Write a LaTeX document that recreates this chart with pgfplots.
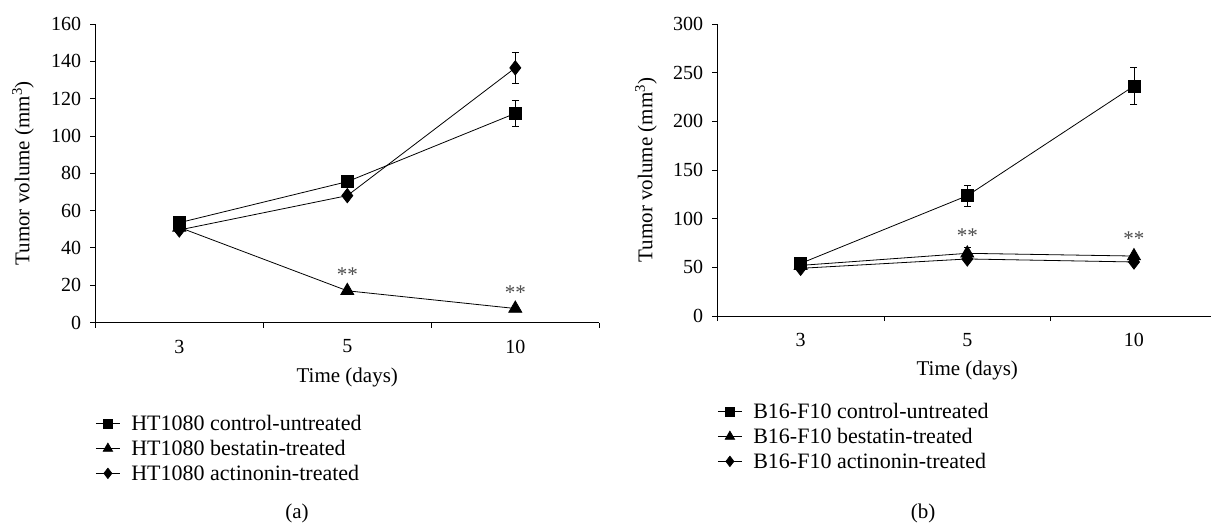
\documentclass[border=0pt]{standalone}
\usepackage{fontspec}
\setmainfont{Liberation Serif}
\usepackage{pgfplots}
\pgfplotsset{compat=1.18}

% diamond a bit taller than wide
\pgfdeclareplotmark{dmd}{%
  \pgfpathmoveto{\pgfqpoint{0pt}{1.3\pgfplotmarksize}}%
  \pgfpathlineto{\pgfqpoint{\pgfplotmarksize}{0pt}}%
  \pgfpathlineto{\pgfqpoint{0pt}{-1.3\pgfplotmarksize}}%
  \pgfpathlineto{\pgfqpoint{-\pgfplotmarksize}{0pt}}%
  \pgfpathclose\pgfusepathqfillstroke}

\pgfplotsset{
  panel/.style={
    scale only axis, anchor=south west,
    xmin=0, xmax=3, ymin=0,
    axis x line*=bottom, axis y line*=left,
    axis line style={-, line width=1pt},
    tick align=outside, major tick length=5pt,
    tick style={line width=0.8pt, black},
    xtick={0,1,2,3}, xticklabels={},
    extra x ticks={0.5,1.5,2.5}, extra x tick labels={3,5,10},
    extra x tick style={tick style={draw=none}},
    xticklabel style={inner sep=0pt, anchor=center, yshift=-19pt},
    yticklabel style={inner sep=0pt, anchor=east, xshift=-9pt},
    /pgf/number format/assume math mode=true,
    tick label style={font=\fontsize{20}{20}\selectfont},
    label style={font=\fontsize{21}{21}\selectfont},
    xlabel={Time (days)},
    ylabel={Tumor volume (mm\textsuperscript{3})},
    legend cell align=left,
    legend style={draw=none, fill=none, inner sep=0pt, row sep=4pt,
      font=\fontsize{22}{22}\selectfont,
      /tikz/every odd column/.append style={column sep=9pt}},
    legend image code/.code={%
      \draw[#1, mark repeat=2, mark phase=2]
        plot coordinates {(0pt,0pt) (12pt,0pt) (24pt,0pt)};},
    every legend image post/.style={mark options={scale=0.72}},
    every axis plot/.append style={black, line width=0.8pt},
    error bars/error bar style={line width=0.8pt},
    error bars/error mark options={rotate=90, mark size=3.5pt, line width=0.8pt},
  },
  sq/.style={mark=square*, mark size=6pt},
  tri/.style={mark=triangle*, mark size=7.5pt},
  dia/.style={mark=dmd, mark size=5.5pt},
}

\begin{document}
\begin{tikzpicture}

% (a) HT1080
\begin{axis}[panel, at={(95.3pt,200.5pt)}, width=504pt, height=298.5pt,
  ymax=160, ytick={0,20,...,160},
  xlabel style={at={(axis description cs:0.5,-0.1826)}, anchor=center},
  ylabel style={at={(axis description cs:-0.1435,0.5)}, anchor=center},
  legend style={at={(axis description cs:0,-0.304)}, anchor=north west}]
\addplot[sq, error bars/.cd, y dir=both, y explicit] coordinates {
  (0.5,53.5) +- (0,0) (1.5,75.5) +- (0,0) (2.5,112.1) +- (0,7.2)};
\addlegendentry{HT1080 control-untreated}
\addplot[tri] coordinates {(0.5,51) (1.5,17) (2.5,7.5)};
\addlegendentry{HT1080 bestatin-treated}
\addplot[dia, error bars/.cd, y dir=both, y explicit] coordinates {
  (0.5,49.6) +- (0,0) (1.5,68) +- (0,0) (2.5,136.5) +- (0,8.5)};
\addlegendentry{HT1080 actinonin-treated}
\node[text=black!70, font=\fontsize{21}{21}\selectfont] at (axis cs:1.5,25.8) {**};
\node[text=black!70, font=\fontsize{21}{21}\selectfont] at (axis cs:2.5,15.8) {**};
\end{axis}

% (b) B16-F10
\begin{axis}[panel, at={(717.3pt,207pt)}, width=500pt, height=292pt,
  ymax=300, ytick={0,50,...,300},
  xlabel style={at={(axis description cs:0.5,-0.185)}, anchor=center},
  ylabel style={at={(axis description cs:-0.1426,0.5)}, anchor=center},
  legend style={at={(axis description cs:0,-0.292)}, anchor=north west}]
\addplot[sq, error bars/.cd, y dir=both, y explicit] coordinates {
  (0.5,54) +- (0,0) (1.5,123.6) +- (0,10.5) (2.5,236.3) +- (0,18.6)};
\addlegendentry{B16-F10 control-untreated}
\addplot[tri, error bars/.cd, y dir=both, y explicit] coordinates {
  (0.5,52) +- (0,0) (1.5,64.4) +- (0,6) (2.5,61.6) +- (0,0)};
\addlegendentry{B16-F10 bestatin-treated}
\addplot[dia] coordinates {(0.5,49) (1.5,58.6) (2.5,55.5)};
\addlegendentry{B16-F10 actinonin-treated}
\node[text=black!70, font=\fontsize{21}{21}\selectfont] at (axis cs:1.5,83) {**};
\node[text=black!70, font=\fontsize{21}{21}\selectfont] at (axis cs:2.5,80) {**};
\end{axis}

\node[font=\fontsize{21}{21}\selectfont] at (297pt,10pt) {(a)};
\node[font=\fontsize{21}{21}\selectfont] at (923pt,10pt) {(b)};

% fix the page to the reference's size
\pgfresetboundingbox
\path (0,0) rectangle (1211pt,523pt);
\end{tikzpicture}
\end{document}
